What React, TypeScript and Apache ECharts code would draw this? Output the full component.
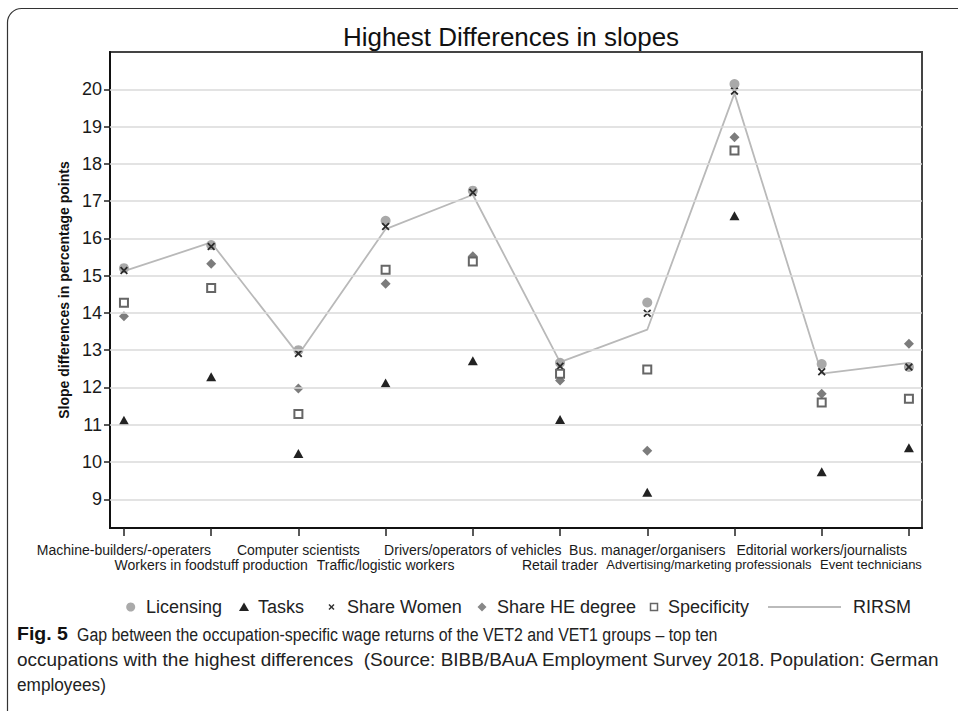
import React, { useEffect, useRef } from "react";
import * as echarts from "echarts";

const categories = [
  "Machine-builders/-operaters",
  "Workers in foodstuff production",
  "Computer scientists",
  "Traffic/logistic workers",
  "Drivers/operators of vehicles",
  "Retail trader",
  "Bus. manager/organisers",
  "Advertising/marketing professionals",
  "Editorial workers/journalists",
  "Event technicians",
];
const licensing = [15.2, 15.82, 13.0, 16.47, 17.28, 12.66, 14.28, 20.14, 12.63, 12.55];
const tasks = [11.12, 12.29, 10.23, 12.12, 12.72, 11.14, 9.19, 16.61, 9.74, 10.38];
const shareWomen = [15.14, 15.78, 12.91, 16.32, 17.23, 12.57, 13.99, 19.95, 12.42, 12.55];
const shareHE = [13.91, 15.32, 11.97, 14.78, 15.52, 12.19, 10.3, 18.71, 11.83, 13.17];
const specificity = [14.27, 14.67, 11.29, 15.16, 15.38, 12.37, 12.48, 18.36, 11.6, 11.7];
const rirsm = [15.12, 15.89, 12.88, 16.25, 17.17, 12.68, 13.55, 19.89, 12.37, 12.66];
const yTicks = [9, 10, 11, 12, 13, 14, 15, 16, 17, 18, 19, 20];
const xTicks = [1, 2, 3, 4, 5, 6, 7, 8, 9, 10];
const xRow1 = [1, 3, 5, 7, 9];
const xRow2 = [2, 4, 6, 8];
const xRow2End = [10];

const TITLE = "Highest Differences in slopes";
const Y_NAME = "Slope differences in percentage points";
const CAPTION_BOLD = "Fig. 5";
const CAPTION_1 = "Gap between the occupation-specific wage returns of the VET2 and VET1 groups – top ten";
const CAPTION_2 = "occupations with the highest differences  (Source: BIBB/BAuA Employment Survey 2018. Population: German";
const CAPTION_3 = "employees)";

const FONT = "'Liberation Sans', Arial, sans-serif";
const X_SYMBOL =
  "path://M0,1.6L1.6,0L5,3.4L8.4,0L10,1.6L6.6,5L10,8.4L8.4,10L5,6.6L1.6,10L0,8.4L3.4,5Z";

const toXY = (arr: number[]) => arr.map((v, i) => [i + 1, v]);

function measure(text: string, font: string): number {
  const c = document.createElement("canvas");
  const ctx = c.getContext("2d");
  if (!ctx) return text.length * 9;
  ctx.font = font;
  return ctx.measureText(text).width;
}

const X_MIN = 0.84;
const X_MAX = 10.15;

const labelBase = {
  fontFamily: FONT,
  fontSize: 14,
  lineHeight: 14.5,
  color: "#1a1a1a",
  hideOverlap: false,
  showMinLabel: true,
  showMaxLabel: true,
};

const catName = (v: number) => categories[Math.round(v) - 1] ?? "";

export default function App() {
  const ref = useRef<HTMLDivElement>(null);
  useEffect(() => {
    document.body.style.margin = "0";
    if (!ref.current) return;
    const chart = echarts.init(ref.current, undefined, { renderer: "svg" });

    const capSize = 19;
    const capFont = `${capSize}px ${FONT}`;
    const boldFont = `bold ${capSize}px ${FONT}`;
    const s1 = (718 - 77) / measure(CAPTION_1, capFont);
    const s2 = (940 - 17) / measure(CAPTION_2, capFont);
    const s3 = (106 - 17) / measure(CAPTION_3, capFont);
    const sb = (68 - 17) / measure(CAPTION_BOLD, boldFont);

    const legendY = 607;
    const legendText = (x: number, t: string) => ({
      type: "text",
      x,
      y: legendY,
      style: { text: t, font: `18px ${FONT}`, fill: "#222", textVerticalAlign: "middle", textAlign: "left" },
    });

    const hiddenAxis = {
      type: "value",
      min: X_MIN,
      max: X_MAX,
      position: "bottom",
      axisLine: { show: false },
      axisTick: { show: false },
      splitLine: { show: false },
    };

    const option: any = {
      animation: false,
      backgroundColor: "#fff",
      grid: {
        left: 110,
        top: 52,
        right: 36,
        bottom: 183,
        show: true,
        borderColor: "#444",
        borderWidth: 2,
        containLabel: false,
        outerBoundsMode: "none",
      },
      xAxis: [
        {
          type: "value",
          min: X_MIN,
          max: X_MAX,
          position: "bottom",
          axisLine: { show: true, lineStyle: { color: "#111", width: 2 } },
          axisTick: { show: true, length: 8, customValues: xTicks, lineStyle: { color: "#222", width: 1.5 } },
          splitLine: { show: false },
          axisLabel: { ...labelBase, customValues: xRow1, margin: 15, formatter: catName },
        },
        {
          ...hiddenAxis,
          axisLabel: {
            ...labelBase,
            customValues: xRow2,
            margin: 29.5,
            formatter: (v: number) => (Math.round(v) === 8 ? "{a|" + catName(v) + "}" : catName(v)),
            rich: { a: { fontFamily: FONT, fontSize: 13, lineHeight: 14.5, color: "#1a1a1a", padding: [0, 51, 0, 0] } },
          },
        },
        {
          ...hiddenAxis,
          axisLabel: {
            ...labelBase,
            customValues: xRow2End,
            margin: 29.5,
            formatter: (v: number) => "{e|" + catName(v) + "}",
            rich: { e: { fontFamily: FONT, fontSize: 13, lineHeight: 14.5, color: "#1a1a1a", padding: [0, 76, 0, 0] } },
          },
        },
      ],
      yAxis: {
        type: "value",
        min: 8.23,
        max: 21.0,
        name: Y_NAME,
        nameLocation: "middle",
        nameRotate: 90,
        nameGap: 28,
        nameTextStyle: { fontFamily: FONT, fontSize: 14, fontWeight: "bold", color: "#111" },
        axisLine: { show: true, lineStyle: { color: "#111", width: 2 } },
        axisTick: { show: true, length: 6, customValues: yTicks, lineStyle: { color: "#222", width: 1.5 } },
        axisLabel: { customValues: yTicks, margin: 8, fontFamily: FONT, fontSize: 18, color: "#1a1a1a" },
        splitLine: { show: false },
      },
      series: [
        {
          name: "grid",
          type: "line",
          data: [],
          silent: true,
          markLine: {
            silent: true,
            symbol: "none",
            label: { show: false },
            lineStyle: { color: "#dadada", width: 1.5, type: "solid" },
            data: yTicks.map((v) => ({ yAxis: v })),
          },
        },
        {
          name: "Licensing",
          type: "scatter",
          data: toXY(licensing),
          symbol: "circle",
          symbolSize: 10,
          itemStyle: { color: "#a9a9a9", opacity: 1 },
        },
        {
          name: "Tasks",
          type: "scatter",
          data: toXY(tasks),
          symbol: "triangle",
          symbolSize: [10, 9],
          itemStyle: { color: "#222", opacity: 1 },
        },
        {
          name: "Share Women",
          type: "scatter",
          data: toXY(shareWomen),
          symbol: X_SYMBOL,
          symbolSize: 8,
          itemStyle: { color: "#2a2a2a", opacity: 1 },
        },
        {
          name: "Share HE degree",
          type: "scatter",
          data: toXY(shareHE),
          symbol: "diamond",
          symbolSize: [10, 10],
          itemStyle: { color: "#7c7c7c", opacity: 1 },
        },
        {
          name: "Specificity",
          type: "scatter",
          data: toXY(specificity),
          symbol: "rect",
          symbolSize: 8,
          itemStyle: { color: "#fff", borderColor: "#666", borderWidth: 2, opacity: 1 },
        },
        {
          name: "RIRSM",
          type: "line",
          data: toXY(rirsm),
          symbol: "none",
          lineStyle: { color: "#b9b9b9", width: 1.8 },
          z: 1,
        },
      ],
      graphic: [
        {
          type: "rect",
          shape: { x: 7.5, y: 8.5, width: 1000, height: 722, r: 14 },
          style: { fill: "none", stroke: "#333", lineWidth: 1.2 },
          silent: true,
        },
        {
          type: "text",
          x: 511,
          y: 37,
          style: { text: TITLE, font: `26px ${FONT}`, fill: "#111", textAlign: "center", textVerticalAlign: "middle" },
        },
        { type: "circle", shape: { cx: 130.7, cy: legendY, r: 4.5 }, style: { fill: "#aaa" } },
        legendText(146, "Licensing"),
        {
          type: "polygon",
          shape: { points: [[244, legendY - 4.5], [249, legendY + 4], [239, legendY + 4]] },
          style: { fill: "#222" },
        },
        legendText(258, "Tasks"),
        {
          type: "line",
          shape: { x1: 329, y1: legendY - 2.5, x2: 334, y2: legendY + 2.5 },
          style: { stroke: "#333", lineWidth: 1.5 },
        },
        {
          type: "line",
          shape: { x1: 334, y1: legendY - 2.5, x2: 329, y2: legendY + 2.5 },
          style: { stroke: "#333", lineWidth: 1.5 },
        },
        legendText(347, "Share Women"),
        {
          type: "polygon",
          shape: { points: [[482, legendY - 4.5], [486.5, legendY], [482, legendY + 4.5], [477.5, legendY]] },
          style: { fill: "#888" },
        },
        legendText(497, "Share HE degree"),
        {
          type: "rect",
          shape: { x: 650.5, y: legendY - 3.5, width: 7, height: 7 },
          style: { fill: "#fff", stroke: "#666", lineWidth: 1.5 },
        },
        legendText(668, "Specificity"),
        {
          type: "line",
          shape: { x1: 768, y1: legendY, x2: 841, y2: legendY },
          style: { stroke: "#bbb", lineWidth: 2 },
        },
        legendText(853, "RIRSM"),
        {
          type: "text",
          x: 17,
          y: 634,
          scaleX: sb,
          style: { text: CAPTION_BOLD, font: boldFont, fill: "#111", textVerticalAlign: "middle" },
        },
        {
          type: "text",
          x: 77,
          y: 634,
          scaleX: s1,
          style: { text: CAPTION_1, font: capFont, fill: "#222", textVerticalAlign: "middle" },
        },
        {
          type: "text",
          x: 17,
          y: 659.5,
          scaleX: s2,
          style: { text: CAPTION_2, font: capFont, fill: "#222", textVerticalAlign: "middle" },
        },
        {
          type: "text",
          x: 17,
          y: 685,
          scaleX: s3,
          style: { text: CAPTION_3, font: capFont, fill: "#222", textVerticalAlign: "middle" },
        },
      ],
    };
    chart.setOption(option);
    return () => chart.dispose();
  }, []);
  return <div ref={ref} style={{ position: "absolute", left: 0, top: 0, width: 958, height: 711 }} />;
}
